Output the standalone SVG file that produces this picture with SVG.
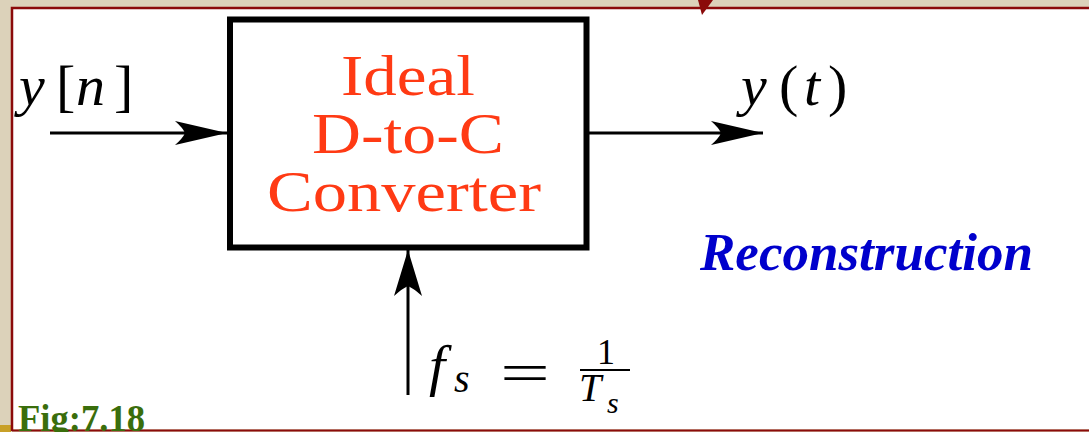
<svg xmlns="http://www.w3.org/2000/svg" width="1089" height="432" viewBox="0 0 1089 432">
<style>
.box{fill:#ffffff;stroke:#000;stroke-width:6}
.wire{fill:none;stroke:#000;stroke-width:3}
.red{font-family:"Liberation Serif",serif;font-size:56px;fill:#ff3a14;text-anchor:middle}
.math{font-family:"Liberation Serif",serif;font-style:italic;fill:#000}
.rm{font-family:"Liberation Serif",serif;fill:#000}
</style>
<defs>
<marker id="ah" markerUnits="userSpaceOnUse" viewBox="-53 -13 54 26" refX="0" refY="0" markerWidth="54" markerHeight="26" orient="auto">
<path d="M0,0 L-52,-12 Q-44,-5 -42,0 Q-44,5 -52,12 Z" fill="#000"/>
</marker>
<marker id="ahv" markerUnits="userSpaceOnUse" viewBox="-47 -15 48 30" refX="0" refY="0" markerWidth="48" markerHeight="30" orient="auto">
<path d="M0,0 L-46,-14 Q-38,-5 -36,0 Q-38,5 -46,14 Z" fill="#000"/>
</marker>
</defs>
<rect x="0" y="0" width="1089" height="432" fill="#dcd2ba"/>
<rect x="0" y="425" width="11" height="7" fill="#c8a028"/>
<rect x="12" y="9" width="1080" height="420" fill="#fff"/>
<path d="M12,431 L12,8 L1092,8" fill="none" stroke="#8b0a0a" stroke-width="2.5"/>
<line x1="12" y1="430.5" x2="1089" y2="430.5" stroke="#8b0a0a" stroke-width="2"/>
<path d="M698,0 L713,0 L702,15 Z" fill="#8b0a0a"/>

<g id="connectors">
<line class="wire" x1="50" y1="133" x2="227" y2="133" marker-end="url(#ah)"/>
<line class="wire" x1="589" y1="133" x2="763" y2="133" marker-end="url(#ah)"/>
<line class="wire" x1="408" y1="395" x2="408" y2="250" marker-end="url(#ahv)"/>
</g>

<g id="converter">
<rect class="box" x="230" y="19.5" width="356.5" height="228"/>
<text class="red" x="408" y="95" textLength="134" lengthAdjust="spacingAndGlyphs">Ideal</text>
<text class="red" x="408" y="153" textLength="192" lengthAdjust="spacingAndGlyphs">D-to-C</text>
<text class="red" x="404" y="211" textLength="274" lengthAdjust="spacingAndGlyphs">Converter</text>
</g>

<g id="input-label">
<text class="math" x="19" y="105" font-size="58">y</text>
<text class="rm" x="56" y="105" font-size="58">[</text>
<text class="math" x="76" y="105" font-size="58">n</text>
<text class="rm" x="114" y="105" font-size="58">]</text>
</g>

<g id="output-label">
<text class="math" x="741" y="105" font-size="58">y</text>
<text class="rm" x="779" y="105" font-size="58">(</text>
<text class="math" x="804" y="105" font-size="58">t</text>
<text class="rm" x="828" y="105" font-size="58">)</text>
</g>

<g id="rate-label">
<text class="math" x="429" y="385" font-size="58">f</text>
<text class="math" x="454" y="392" font-size="40">s</text>
<text class="rm" x="500" y="392" font-size="58" textLength="50" lengthAdjust="spacingAndGlyphs">=</text>
<text class="rm" x="597" y="364" font-size="36">1</text>
<line x1="580" y1="370" x2="630" y2="370" stroke="#000" stroke-width="2.2"/>
<text class="math" x="579" y="401" font-size="40">T</text>
<text class="math" x="607" y="413" font-size="30">s</text>
</g>

<text x="700" y="270" font-family="Liberation Serif,serif" font-weight="bold" font-style="italic" font-size="52" fill="#0000cc" textLength="333" lengthAdjust="spacingAndGlyphs">Reconstruction</text>
<text x="18" y="431" font-family="Liberation Serif,serif" font-weight="bold" font-size="38" fill="#3a6e0c" textLength="127" lengthAdjust="spacingAndGlyphs">Fig:7.18</text>
</svg>
